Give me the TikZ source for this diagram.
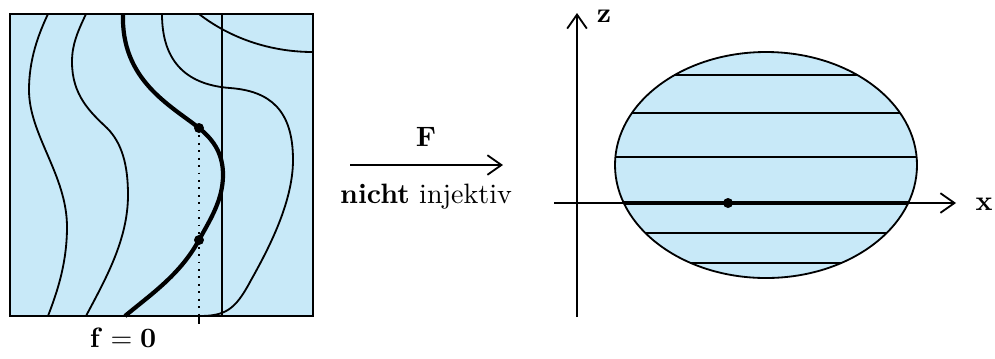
\documentclass[tikz,border=0pt]{standalone}
\usetikzlibrary{arrows.meta}
\definecolor{hellblau}{RGB}{200,233,248}
\begin{document}
\begin{tikzpicture}[x=0.357pt, y=-0.357pt, >={Straight Barb[length=5pt,width=7pt]}, line width=0.65pt]
	\useasboundingbox (0,0) rectangle (995,358);
	% Urbild: Quadrat mit Niveaulinien
	\fill[hellblau] (10,14) rectangle (313,316);
	\draw (48,14) .. controls (38,35) and (29,60) .. (29,90)
		.. controls (29,135) and (67,175) .. (67,227)
		.. controls (67,265) and (56,295) .. (48,316);
	\draw (86,14) .. controls (77,33) and (72,45) .. (72,62)
		.. controls (72,95) and (90,112) .. (107,128)
		.. controls (122,143) and (128,165) .. (128,195)
		.. controls (128,240) and (105,280) .. (86,316);
	\draw[line width=1.5pt] (123,14) .. controls (121,80) and (170,105) .. (199,128)
		.. controls (215,141) and (223,155) .. (223,175)
		.. controls (223,200) and (210,220) .. (199,240)
		.. controls (180,275) and (150,295) .. (125,316);
	\draw (162,14) .. controls (162,65) and (190,85) .. (230,88)
		.. controls (270,91) and (293,110) .. (293,160)
		.. controls (293,205) and (265,255) .. (250,282)
		.. controls (235,310) and (225,316) .. (199,316);
	\draw (199,14) .. controls (230,38) and (270,52) .. (313,52);
	\draw (222,14) -- (222,316);
	\draw (10,14) rectangle (313,316);
	\draw[dotted] (199,128) -- (199,316);
	\draw (199,316) -- (199,324);
	\fill (199,128) circle (5);
	\fill (199,240) circle (5);
	\node (fnull) at (123,338) {$\mathbf{f=0}$};
	% Abbildung F
	\coordinate (pfeilA) at (350,165);
	\coordinate (pfeilB) at (503,165);
	\draw[->] (pfeilA) -- (pfeilB);
	\node (abb) at (426,137) {$\mathbf{F}$};
	\node (nichtinj) at (426,197) {\textbf{nicht} injektiv};
	% Bild: Ellipse mit Achsen
	\fill[hellblau] (766,165) ellipse (151 and 113);
	\begin{scope}
		\clip (766,165) ellipse (151 and 113);
		\foreach \h in {75,113,157,233,263}
			\draw (600,\h) -- (930,\h);
		\draw[line width=1.2pt] (600,203) -- (930,203);
	\end{scope}
	\draw (766,165) ellipse (151 and 113);
	\draw[->] (554,203) -- (956,203);
	\draw[->] (577,317) -- (577,13);
	\node (xachse) at (984,204) {$\mathbf{x}$};
	\node (zachse) at (604,16) {$\mathbf{z}$};
	\fill (728,203) circle (5);
\end{tikzpicture}
\end{document}
